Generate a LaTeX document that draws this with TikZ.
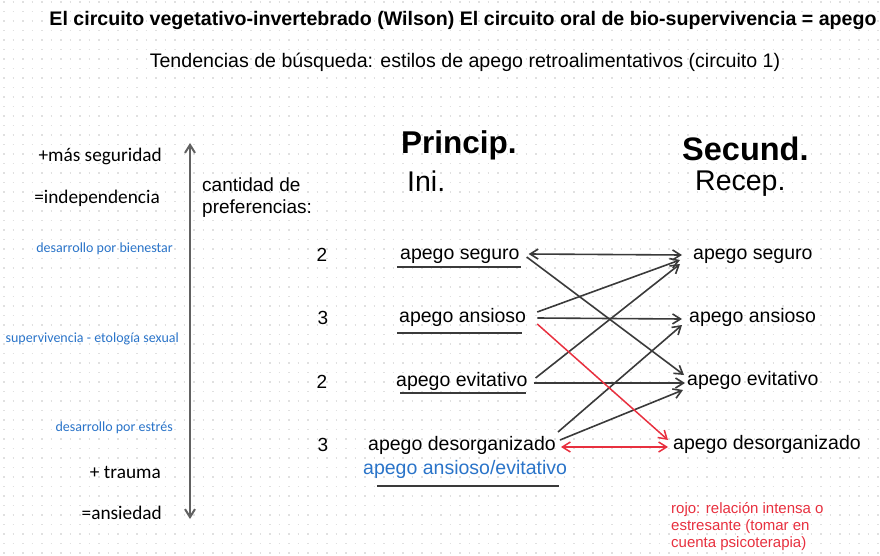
\documentclass[tikz,border=0pt]{standalone}
\usepackage{fontspec}
\setmainfont{Liberation Sans}
\newfontfamily\calfont{Carlito}
\usetikzlibrary{arrows.meta}

\definecolor{linkgray}{HTML}{3A3A3A}
\definecolor{notered}{HTML}{E8303F}
\definecolor{noteblue}{HTML}{2A74C9}
\definecolor{dotgray}{HTML}{E0E0E0}

\begin{document}
\begin{tikzpicture}[
  x=1pt, y=-1pt,
  apbox/.style   = {inner sep=0pt, anchor=west, text height=14pt,
                    text depth=5pt, font=\fontsize{19.5}{22}\selectfont},
  sidelbl/.style = {inner sep=0pt, anchor=east,
                    font=\calfont\fontsize{19.3}{22}\selectfont},
  bluelbl/.style = {inner sep=0pt, anchor=east, text=noteblue,
                    font=\calfont\fontsize{14}{16}\selectfont},
  numlbl/.style  = {inner sep=0pt, font=\fontsize{19}{22}\selectfont},
  headlbl/.style = {inner sep=0pt, anchor=west,
                    font=\bfseries\fontsize{31.5}{33}\selectfont},
  sublbl/.style  = {inner sep=0pt, anchor=west,
                    font=\fontsize{28.5}{30}\selectfont},
  linkarr/.style = {-{Straight Barb[length=8pt,width=10pt]}, line width=1.6pt, linkgray},
  bothlink/.style= {{Straight Barb[length=8pt,width=10pt]}-{Straight Barb[length=8pt,width=10pt]},
                    line width=1.6pt, linkgray},
  redarr/.style  = {-{Straight Barb[length=8pt,width=10pt]}, line width=1.5pt, notered},
  redboth/.style = {{Straight Barb[length=8pt,width=10pt]}-{Straight Barb[length=8pt,width=10pt]},
                    line width=1.5pt, notered},
  uline/.style   = {line width=1.5pt, linkgray},
  scalearr/.style= {{Straight Barb[length=8pt,width=10pt]}-{Straight Barb[length=8pt,width=10pt]},
                    line width=2pt, black!62},
  dotrow/.style  = {dotgray, line width=1.6pt, dash pattern=on 1.6pt off 7.9pt},
]

\fill[white] (0,0) rectangle (880,556);
\useasboundingbox (0,0) rectangle (880,556);
\foreach \r in {0,...,58}
  \draw[dotrow] (3,{2+9.5*\r}) -- (880,{2+9.5*\r});

% Titles
\node[inner sep=0pt, font=\bfseries\fontsize{19.6}{22}\selectfont] (title)
  at (463,20) {El circuito vegetativo-invertebrado (Wilson) El circuito oral de bio-supervivencia = apego};
\node[inner sep=0pt, font=\fontsize{19.6}{22}\selectfont] (subtitle)
  at (465,62) {Tendencias de búsqueda: estilos de apego retroalimentativos (circuito 1)};

% Scale on the left
\node[sidelbl] (masseg)  at (162,156) {+más seguridad};
\node[sidelbl] (indep)   at (160,198) {=independencia};
\node[bluelbl] (bienest) at (173,249) {desarrollo por bienestar};
\node[bluelbl] (superv)  at (179,339) {supervivencia - etología sexual};
\node[bluelbl] (estres)  at (173,428) {desarrollo por estrés};
\node[sidelbl] (trauma)  at (161,472) {+ trauma};
\node[sidelbl] (ansied)  at (162,513) {=ansiedad};
\coordinate (scaletop) at (190,143);
\coordinate (scalebot) at (190,519);
\draw[scalearr] (scaletop) -- (scalebot);

\node[inner sep=0pt, anchor=west, align=left, font=\fontsize{19}{22}\selectfont] (cantidad)
  at (202,198) {cantidad de\\preferencias:};
\node[numlbl] (n1) at (322,255) {2};
\node[numlbl] (n2) at (323,318) {3};
\node[numlbl] (n3) at (322,382) {2};
\node[numlbl] (n4) at (323,445) {3};

% Column heads
\node[headlbl] (princ) at (401,145) {Princip.};
\node[sublbl]  (ini)   at (407,181) {Ini.};
\node[headlbl, font=\bfseries\fontsize{32.5}{34}\selectfont] (secun) at (682,149) {Secund.};
\node[sublbl]  (recep) at (695,184) {Recep.};

% Left column
\node[apbox] (ls) at (400,255) {apego seguro};
\node[apbox] (la) at (399,318) {apego ansioso};
\node[apbox] (le) at (396,382) {apego evitativo};
\node[apbox] (ld) at (368,446) {apego desorganizado};
\node[apbox, text=noteblue] (lae) at (363,470) {apego ansioso/evitativo};

\draw[uline] ([xshift=-3pt,yshift=-12pt]ls.west) -- ([xshift=1pt,yshift=-12pt]ls.east);
\draw[uline] ([xshift=-2pt,yshift=-15pt]la.west) -- ([xshift=-4pt,yshift=-15pt]la.east);
\draw[uline] ([xshift=4pt,yshift=-11pt]le.west) -- ([xshift=-2pt,yshift=-11pt]le.east);
\draw[uline] ([xshift=14pt,yshift=-16pt]lae.west) -- ([xshift=-8pt,yshift=-16pt]lae.east);

% Right column
\node[apbox] (rs) at (693,255) {apego seguro};
\node[apbox] (ra) at (689,318) {apego ansioso};
\node[apbox] (re) at (687,381) {apego evitativo};
\node[apbox] (rd) at (673,445) {apego desorganizado};

% Links (left -> right)
\draw[bothlink] ([xshift=9pt,yshift=1pt]ls.east) -- ([xshift=-11pt]rs.west);
\draw[linkarr] ([xshift=7pt,yshift=-2pt]ls.east) -- ([xshift=-3pt,yshift=6pt]re.west);
\draw[linkarr] ([xshift=11pt,yshift=6pt]la.east) -- ([xshift=-13pt,yshift=-5pt]rs.west);
\draw[linkarr] ([xshift=11pt]la.east) -- ([xshift=-7pt,yshift=-1pt]ra.west);
\draw[linkarr] ([xshift=8pt,yshift=4pt]le.east) -- ([xshift=-13pt,yshift=-9pt]rs.west);
\draw[linkarr] ([xshift=6pt,yshift=-1pt]le.east) -- ([xshift=-2pt,yshift=-2pt]re.west);
\draw[linkarr] ([xshift=2pt,yshift=14pt]ld.east) -- ([xshift=-7pt,yshift=-7pt]ra.west);
\draw[linkarr] ([xshift=4pt,yshift=6pt]ld.east) -- ([xshift=-4pt,yshift=-9pt]re.west);

% Red links
\draw[redarr] ([xshift=11pt,yshift=-6pt]la.east) -- ([xshift=-5pt,yshift=5pt]rd.west);
\draw[redboth] ([xshift=5pt,yshift=-1pt]ld.east) -- ([xshift=-5pt,yshift=-2pt]rd.west);

\node[inner sep=0pt, anchor=north west, align=left, text=notered,
      font=\fontsize{15}{17}\selectfont] (rednote)
  at (671,502) {rojo: relación intensa o\\estresante (tomar en\\cuenta psicoterapia)};

\end{tikzpicture}
\end{document}
